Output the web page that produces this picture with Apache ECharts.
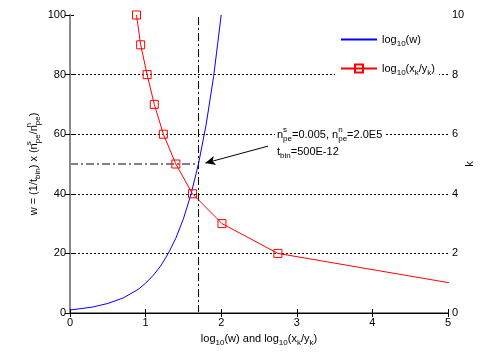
<!DOCTYPE html>
<html><head><meta charset="utf-8">
<script src="https://cdn.jsdelivr.net/npm/echarts@6/dist/echarts.min.js"></script>
<style>html,body{margin:0;padding:0;background:#fff}#c{width:485px;height:357px}</style>
</head><body><div id="c"></div>
<script>
// ---- data ----
const wLogX    = [0, 0.3, 0.5, 0.7, 0.9, 1.0, 1.1, 1.2, 1.3, 1.4, 1.5, 1.6, 1.7, 1.8, 1.9, 2.0];
const wValues  = [1, 2.0, 3.2, 5.0, 7.9, 10, 12.6, 15.8, 20, 25.1, 31.6, 39.8, 50.1, 63.1, 79.4, 100];
const ratioLogX = [0.88, 0.935, 1.02, 1.115, 1.235, 1.40, 1.62, 2.01, 2.75, 5.05];
const kValues   = [10, 9, 8, 7, 6, 5, 4, 3, 2, 1];
const xRange = [0, 5];
const leftRange = [0, 100];
const rightRange = [0, 10];
const crossLogW = 1.7;
const crossW = 50;
const arrowTail = [2.62, 56];
const arrowHead = [1.79, 50.3];

const FONT = '"Liberation Sans", Arial, sans-serif';
const C = '#000';
const rich = {
  b:    {fontSize: 11, fontFamily: FONT, color: C, verticalAlign: 'middle', lineHeight: 17},
  sub:  {fontSize: 8,  fontFamily: FONT, color: C, verticalAlign: 'bottom', lineHeight: 9},
  sup:  {fontSize: 8,  fontFamily: FONT, color: C, verticalAlign: 'top', lineHeight: 9},
  supz: {fontSize: 8,  fontFamily: FONT, color: C, verticalAlign: 'top', lineHeight: 9, width: 0, align: 'left'}
};
const legendLabels = {
  'log10(w)': '{b|log}{sub|10}{b|(w)}',
  'log10(xk/yk)': '{b|log}{sub|10}{b|(x}{sub|k}{b|/y}{sub|k}{b|)}'
};

const wData = wLogX.map((x, i) => [x, wValues[i]]);
const kData = ratioLogX.map((x, i) => [x, kValues[i]]);
const dashDot = [8, 3, 2, 3];

const chart = echarts.init(document.getElementById('c'), null, {renderer: 'canvas'});
chart.setOption({
  animation: false,
  backgroundColor: '#fff',
  grid: {left: 70, right: 37, top: 15, bottom: 44},
  legend: {
    data: [
      {name: 'log10(w)', itemStyle: {opacity: 0}},
      {name: 'log10(xk/yk)'}
    ],
    orient: 'vertical',
    left: 335, top: 30,
    backgroundColor: '#fff',
    padding: [4, 4, 4, 5],
    itemWidth: 36, itemHeight: 10, itemGap: 15,
    formatter: n => legendLabels[n],
    textStyle: {rich: rich, fontFamily: FONT}
  },
  xAxis: [{
    type: 'value', min: xRange[0], max: xRange[1], interval: 1, position: 'bottom', z: 5,
    name: '{b|log}{sub|10}{b|(w) and log}{sub|10}{b|(x}{sub|k}{b|/y}{sub|k}{b|)}',
    nameLocation: 'middle', nameGap: 17,
    nameTextStyle: {rich: rich},
    axisLine: {lineStyle: {color: '#888', width: 2}},
    axisTick: {inside: true, length: 4, lineStyle: {color: '#000'}},
    axisLabel: {color: C, fontSize: 11, fontFamily: FONT, margin: 4},
    splitLine: {show: false}
  }, {
    type: 'value', min: xRange[0], max: xRange[1], interval: 1, position: 'top', z: 5,
    axisLine: {lineStyle: {color: '#000', width: 1}},
    axisTick: {inside: true, length: 4, lineStyle: {color: '#000'}},
    axisLabel: {show: false},
    splitLine: {show: false}
  }],
  yAxis: [{
    type: 'value', min: leftRange[0], max: leftRange[1], interval: 20, position: 'left', z: 3,
    name: '{b|w = (1/t}{sub|bin}{b|) x (n}{supz|s}{sub|pe}{b|/n}{supz|n}{sub|pe}{b|)}',
    nameLocation: 'middle', nameGap: 28, nameMoveOverlap: false,
    nameTextStyle: {rich: rich},
    axisLine: {show: true, lineStyle: {color: '#000', width: 1}},
    axisTick: {show: true, inside: true, length: 4, lineStyle: {color: '#000'}},
    axisLabel: {color: C, fontSize: 11, fontFamily: FONT, margin: 4},
    splitLine: {show: true, showMinLine: false, showMaxLine: false,
      lineStyle: {color: '#000', type: [2, 2], width: 1}}
  }, {
    type: 'value', min: rightRange[0], max: rightRange[1], interval: 2, position: 'right', z: 5,
    name: 'k', nameLocation: 'middle', nameGap: 16, nameRotate: 90, nameMoveOverlap: false,
    nameTextStyle: {color: C, fontSize: 11, fontFamily: FONT},
    axisLine: {show: true, lineStyle: {color: '#888', width: 2}},
    axisTick: {show: true, inside: true, length: 5, lineStyle: {color: '#000'}},
    axisLabel: {color: C, fontSize: 11, fontFamily: FONT, margin: 4},
    splitLine: {show: false}
  }],
  series: [{
    name: 'log10(w)', type: 'line', xAxisIndex: 0, yAxisIndex: 0,
    data: wData, showSymbol: false, symbol: 'none', clip: true,
    lineStyle: {color: '#0000ff', width: 1}, itemStyle: {color: '#0000ff'}, z: 5
  }, {
    name: 'log10(xk/yk)', type: 'line', xAxisIndex: 0, yAxisIndex: 1,
    data: kData, symbol: 'rect', symbolSize: 8, clip: true,
    lineStyle: {color: '#ff0000', width: 1},
    itemStyle: {color: 'rgba(0,0,0,0)', borderColor: '#ff0000', borderWidth: 1}, z: 6
  }, {
    name: 'vline', type: 'line', xAxisIndex: 0, yAxisIndex: 0, symbol: 'none',
    data: [[crossLogW, leftRange[0]], [crossLogW, leftRange[1]]],
    lineStyle: {color: '#000', width: 1, type: dashDot}, z: 4, silent: true
  }, {
    name: 'hline', type: 'line', xAxisIndex: 0, yAxisIndex: 0, symbol: 'none',
    data: [[xRange[0], crossW], [crossLogW, crossW]],
    lineStyle: {color: '#000', width: 1, type: dashDot}, z: 4, silent: true,
    markLine: {
      silent: true, symbol: ['none', 'arrow'], symbolSize: [7, 10],
      lineStyle: {color: '#000', width: 1, type: 'solid'}, label: {show: false},
      data: [[{coord: arrowTail}, {coord: arrowHead}]]
    }
  }],
  graphic: [{
    type: 'text', left: 275, top: 126, z: 100,
    style: {
      text: '{b|n}{supz|s}{sub|pe}{b|=0.005, n}{supz|n}{sub|pe}{b|=2.0E5}\n{b|t}{sub|bin}{b|=500E-12}',
      rich: rich, backgroundColor: '#fff', padding: [0, 3, 0, 2]
    }
  }]
});
</script></body></html>
